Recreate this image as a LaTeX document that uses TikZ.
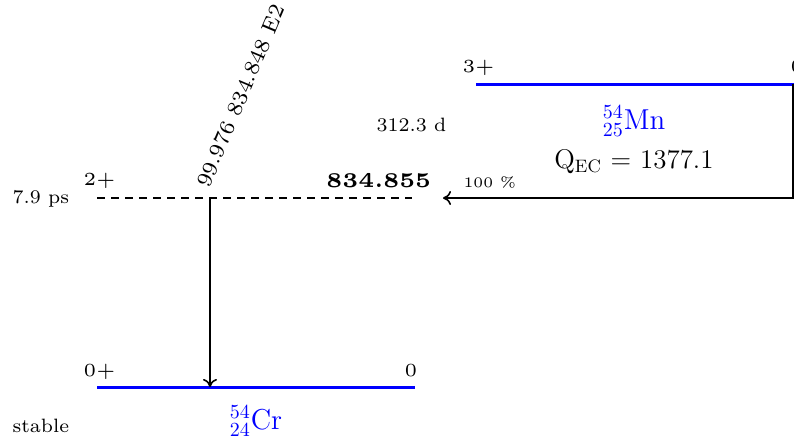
\documentclass[tikz,border=0pt]{standalone}
\usetikzlibrary{arrows.meta}
\tikzset{
  gsline/.style={line width=1.5pt, blue},
  exline/.style={thick, dashed, dash pattern=on 4pt off 3pt},
  trans/.style={thick, -{To[length=4pt,width=7pt]}},
  spinlab/.style={anchor=base west, inner sep=0pt, font=\tiny, scale=1.85},
  halflab/.style={anchor=base west, inner sep=0pt, font=\scriptsize, scale=1.38},
  nuclab/.style={inner sep=0pt, font=\Large, blue}
}
\begin{document}
\begin{tikzpicture}[x=0.5pt, y=-0.5pt]
    \useasboundingbox (0,0) rectangle (794,440);

    % 54Cr levels
    \coordinate (crL) at (97,387);
    \coordinate (crR) at (415,387);
    \draw[gsline] (crL) -- (crR);
    \node[spinlab] (crspin) at (83,376) {0+};
    \node[spinlab, anchor=base east] (crE) at (418,376) {0};
    \node[halflab] (crhl) at (12,432) {stable};
    \node[nuclab, anchor=base] (crname) at (256,429) {$^{54}_{24}$Cr};

    \coordinate (exL) at (97,198);
    \coordinate (exR) at (412,198);
    \draw[exline] (exL) -- (exR);
    \node[spinlab] (exspin) at (83,185) {2+};
    \node[halflab] (exhl) at (12,203) {7.9 ps};
    \node[anchor=base east, inner sep=0pt, font=\tiny\bfseries, scale=2.1] (exE) at (432,187) {834.855};

    % gamma
    \coordinate (gtop) at (210,198);
    \coordinate (gbot) at (210,387);
    \draw[trans] (gtop) -- (gbot);
    \node[anchor=base west, inner sep=0pt, rotate=67, font=\scriptsize, scale=1.55] (glab) at (209,189) {99.976 834.848 E2};

    % 54Mn parent
    \coordinate (mnL) at (476,84);
    \coordinate (mnR) at (810,84);
    \draw[gsline] (mnL) -- (mnR);
    \node[spinlab] (mnspin) at (462,72) {3+};
    \node[spinlab] (mnE) at (790,72) {0};
    \node[halflab] (mnhl) at (376,131) {312.3 d};
    \node[nuclab, anchor=base] (mnname) at (634,129) {$^{54}_{25}$Mn};
    \node[anchor=base, inner sep=0pt, font=\fontsize{13.5}{16}\selectfont] (qec) at (634,168) {Q$_{\mathrm{EC}}$ = 1377.1};

    % EC branch
    \coordinate (ec1) at (793,84);
    \coordinate (ec2) at (793,198);
    \coordinate (ec3) at (443,198);
    \draw[trans] (ec1) -- (ec2) -- (ec3);
    \node[anchor=base west, inner sep=0pt, font=\tiny, scale=1.45] (ecbr) at (463,187) {100 \%};
\end{tikzpicture}
\end{document}
